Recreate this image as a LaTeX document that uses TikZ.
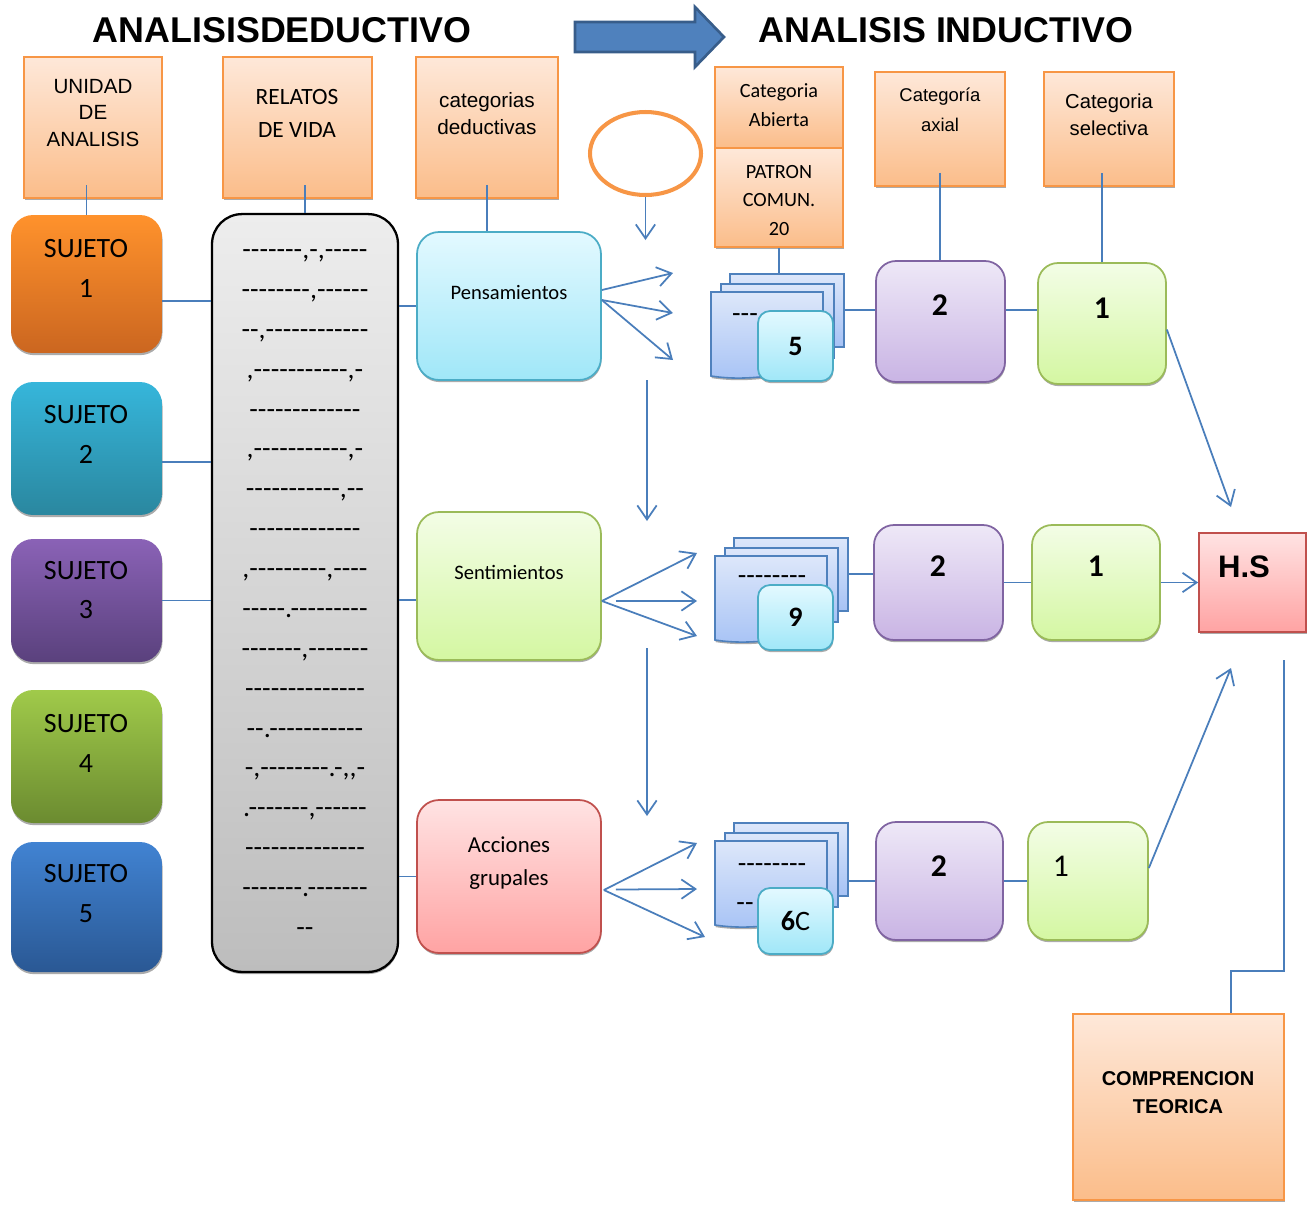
\documentclass[tikz,border=0pt]{standalone}
\usepackage{fontspec}
\setmainfont{Carlito}
\newfontfamily\arialf{Liberation Sans}
\newfontfamily\dashf{Carlito}[Ligatures=TeXOff]
\usetikzlibrary{positioning,calc,shapes.geometric,shadows,arrows.meta}

\definecolor{linkblue}{HTML}{4A7EBB}
\definecolor{orlight}{HTML}{FEE8D9}
\definecolor{ordark}{HTML}{FBBD8A}
\definecolor{orline}{HTML}{F79646}
\definecolor{arrowfill}{HTML}{4F81BD}
\definecolor{arrowline}{HTML}{385D8A}
\definecolor{pagelight}{HTML}{DDE7FA}
\definecolor{pagedark}{HTML}{A6C2F5}
\definecolor{cyanlight}{HTML}{E3F9FF}
\definecolor{cyandark}{HTML}{A0E7F8}
\definecolor{cyanline}{HTML}{4BACC6}
\definecolor{greenlight}{HTML}{F3FDE6}
\definecolor{greendark}{HTML}{D4F7A2}
\definecolor{greenline}{HTML}{9BBB59}
\definecolor{redlight}{HTML}{FFE3E3}
\definecolor{reddark}{HTML}{FFA3A3}
\definecolor{redline}{HTML}{C0504D}
\definecolor{purplelight}{HTML}{EEE8F7}
\definecolor{purpledark}{HTML}{C9B4E4}
\definecolor{purpleline}{HTML}{8064A2}
\definecolor{graylight}{HTML}{EDEDED}
\definecolor{graydark}{HTML}{BDBDBD}
\definecolor{sujAt}{HTML}{FF922C}
\definecolor{sujAb}{HTML}{CB6620}
\definecolor{sujBt}{HTML}{36B6DB}
\definecolor{sujBb}{HTML}{2A879F}
\definecolor{sujCt}{HTML}{8A62B6}
\definecolor{sujCb}{HTML}{5A417D}
\definecolor{sujDt}{HTML}{A0CA4A}
\definecolor{sujDb}{HTML}{6B8B30}
\definecolor{sujEt}{HTML}{4183D2}
\definecolor{sujEb}{HTML}{2A5894}

\tikzset{
	shad/.style={drop shadow={shadow xshift=0.3pt,shadow yshift=-1.2pt,opacity=0.55,fill=black!60}},
	hdbox/.style={draw=orline,line width=1pt,top color=orlight,bottom color=ordark,shad},
	subj/.style={rounded corners=0.44cm,minimum width=3.02cm,shad},
	catbox/.style={rounded corners=0.44cm,line width=1pt,minimum width=3.68cm,shad},
	stepbox/.style={rounded corners=0.4cm,line width=1pt,shad},
	numbox/.style={rounded corners=0.24cm,line width=1pt,draw=cyanline,top color=cyanlight,bottom color=cyandark,
		minimum width=1.5cm,font=\bfseries\fontsize{16}{18}\selectfont,shad},
	sheet/.style={draw=arrowfill,line width=0.9pt,top color=pagelight,bottom color=pagedark},
	link/.style={draw=linkblue,line width=1pt},
	arr/.style={link,-{Straight Barb[length=8pt,width=11pt]}},
	ttl/.style={font=\arialf\bfseries\fontsize{20.4}{24}\selectfont},
	htxt/.style={font=\arialf\fontsize{11.7}{15.3}\selectfont,align=center},
	ctxt/.style={font=\fontsize{11.5}{16.4}\selectfont,align=center},
	sjtxt/.style={font=\fontsize{15.9}{22.7}\selectfont,align=center},
	dtxt/.style={font=\dashf\fontsize{15.9}{22.7}\selectfont,align=center},
	bigtxt/.style={font=\bfseries\fontsize{18}{20}\selectfont},
}

\newcommand{\pagestack}[3]{%
	\node[sheet,minimum width=2.28cm,minimum height=1.46cm,anchor=north west] (#1back) at (#2+18,#3) {};
	\node[sheet,minimum width=2.26cm,minimum height=1.48cm,anchor=north west] (#1mid) at (#2+9,#3+10) {};
	\draw[sheet,shad] (#2,#3+19) -- (#2+112,#3+19) -- (#2+112,#3+97)
		.. controls (#2+80,#3+97) and (#2+45,#3+110) .. (#2,#3+103) -- cycle;
}

\begin{document}
\begin{tikzpicture}[x=0.02cm,y=-0.02cm]
	\useasboundingbox (0,0) rectangle (1313,1205);

	% titles
	\node[ttl] (ded) at (282,30) {ANALISISDEDUCTIVO};
	\node[ttl] (ind) at (946,30) {ANALISIS INDUCTIVO};
	\draw[fill=arrowfill,draw=arrowline,line width=1.5pt] (575,22) -- (695,22) -- (695,7) -- (724,37)
		-- (695,67) -- (695,52) -- (575,52) -- cycle;

	% header boxes
	\node[hdbox,minimum width=2.76cm,minimum height=2.82cm] (unidad) at (93,127.5) {};
	\node[htxt] (unidadtxt) at (93,113) {UNIDAD\\DE\\ANALISIS};
	\node[hdbox,minimum width=2.98cm,minimum height=2.82cm] (relhead) at (297.5,127.5) {};
	\node[align=center,font=\fontsize{13.3}{18.7}\selectfont] (relheadtxt) at (297,113.5) {RELATOS\\DE VIDA};
	\node[hdbox,minimum width=2.84cm,minimum height=2.82cm] (cathead) at (487,127.5) {};
	\node[htxt,font=\arialf\fontsize{11.8}{15.3}\selectfont] (catheadtxt) at (487,113.5) {categorias\\deductivas};
	\node[hdbox,minimum width=2.56cm,minimum height=1.62cm] (abierta) at (779,107.5) {};
	\node[ctxt] (abiertatxt) at (779,105.5) {Categoria\\Abierta};
	\node[hdbox,minimum width=2.56cm,minimum height=1.98cm] (patron) at (779,197.5) {};
	\node[ctxt] (patrontxt) at (779,200.5) {PATRON\\COMUN.\\20};
	\node[hdbox,minimum width=2.6cm,minimum height=2.28cm] (axhead) at (940,129) {};
	\node[htxt,font=\arialf\fontsize{10.5}{17}\selectfont] (axheadtxt) at (940,110) {Categoría\\axial};
	\node[hdbox,minimum width=2.6cm,minimum height=2.28cm] (selhead) at (1109,129) {};
	\node[htxt,font=\arialf\fontsize{11.5}{15.3}\selectfont] (selheadtxt) at (1109,114.5) {Categoria\\selectiva};
	\node[hdbox,minimum width=4.22cm,minimum height=3.72cm] (teoria) at (1178.5,1107) {};
	\node[htxt,font=\arialf\bfseries\fontsize{11.4}{16.4}\selectfont] (teoriatxt) at (1178,1092.5) {COMPRENCION\\TEORICA};

	% sujetos
	\node[subj,top color=sujAt,bottom color=sujAb,minimum height=2.76cm] (s1) at (86.5,284) {};
	\node[sjtxt] (s1txt) at (86,268.5) {SUJETO\\1};
	\node[subj,top color=sujBt,bottom color=sujBb,minimum height=2.66cm] (s2) at (86.5,448.5) {};
	\node[sjtxt] (s2txt) at (86,434) {SUJETO\\2};
	\node[subj,top color=sujCt,bottom color=sujCb,minimum height=2.46cm] (s3) at (86.5,600.5) {};
	\node[sjtxt] (s3txt) at (86,590) {SUJETO\\3};
	\node[subj,top color=sujDt,bottom color=sujDb,minimum height=2.66cm] (s4) at (86.5,756.5) {};
	\node[sjtxt] (s4txt) at (86,743) {SUJETO\\4};
	\node[subj,top color=sujEt,bottom color=sujEb,minimum height=2.6cm] (s5) at (86.5,907) {};
	\node[sjtxt] (s5txt) at (86,893.5) {SUJETO\\5};

	% relatos de vida
	\node[draw=black,line width=1.3pt,rounded corners=0.6cm,top color=graylight,bottom color=graydark,
		minimum width=3.72cm,minimum height=15.16cm,dtxt,shad] (relatos) at (305,593)
		{-------,-,-----\\--------,------\\--,------------\\,-----------,-\\-------------\\,-----------,-\\
		-----------,--\\-------------\\,---------,----\\-----.---------\\-------,-------\\--------------\\
		--.-----------\\-,--------.-,,-\\.-------,------\\--------------\\-------.-------\\--};

	% categorias deductivas
	\node[catbox,draw=cyanline,top color=cyanlight,bottom color=cyandark,minimum height=2.96cm] (pens) at (509,306) {};
	\node[font=\fontsize{11.7}{14}\selectfont] (penstxt) at (509,292) {Pensamientos};
	\node[catbox,draw=greenline,top color=greenlight,bottom color=greendark,minimum height=2.96cm] (sent) at (509,586) {};
	\node[font=\fontsize{11.7}{14}\selectfont] (senttxt) at (509,572) {Sentimientos};
	\node[catbox,draw=redline,top color=redlight,bottom color=reddark,minimum height=3.06cm] (acc) at (509,876.5) {};
	\node[align=center,font=\fontsize{13}{18.7}\selectfont] (acctxt) at (509,863.5) {Acciones\\grupales};

	\node[draw=orline,line width=2.3pt,ellipse,minimum width=2.22cm,minimum height=1.66cm] (ring) at (645.5,153.5) {};

	% patrones
	\pagestack{p1}{711}{273}
	\node[dtxt] (p1txt) at (745,318) {---};
	\node[numbox,minimum height=1.4cm] (n5) at (795.5,346) {5};
	\pagestack{p2}{715}{537}
	\node[dtxt] (p2txt) at (772,580) {--------};
	\node[numbox,minimum height=1.3cm] (n9) at (795.5,617.5) {9};
	\pagestack{p3}{715}{822}
	\node[dtxt] (p3txt) at (772,868) {--------};
	\node[dtxt] (p3txtb) at (745,907) {--};
	\node[numbox,minimum height=1.32cm] (n6c) at (795.5,921) {6\mdseries C};

	% axial y selectiva
	\node[stepbox,draw=purpleline,top color=purplelight,bottom color=purpledark,minimum width=2.58cm,minimum height=2.42cm] (ax1) at (940.5,321.5) {};
	\node[bigtxt] (ax1txt) at (940,305) {2};
	\node[stepbox,draw=purpleline,top color=purplelight,bottom color=purpledark,minimum width=2.58cm,minimum height=2.3cm] (ax2) at (938.5,582.5) {};
	\node[bigtxt] (ax2txt) at (938,566) {2};
	\node[stepbox,draw=purpleline,top color=purplelight,bottom color=purpledark,minimum width=2.54cm,minimum height=2.36cm] (ax3) at (939.5,881) {};
	\node[bigtxt] (ax3txt) at (939,866) {2};
	\node[stepbox,draw=greenline,top color=greenlight,bottom color=greendark,minimum width=2.56cm,minimum height=2.42cm] (sel1) at (1102,323.5) {};
	\node[bigtxt] (sel1txt) at (1102,308) {1};
	\node[stepbox,draw=greenline,top color=greenlight,bottom color=greendark,minimum width=2.56cm,minimum height=2.3cm] (sel2) at (1096,582.5) {};
	\node[bigtxt] (sel2txt) at (1096,566) {1};
	\node[stepbox,draw=greenline,top color=greenlight,bottom color=greendark,minimum width=2.4cm,minimum height=2.36cm] (sel3) at (1088,881) {};
	\node[font=\fontsize{18}{20}\selectfont] (sel3txt) at (1061,866) {1};

	\node[draw=redline,line width=1pt,top color=redlight,bottom color=reddark,minimum width=2.14cm,minimum height=1.98cm,shad] (hs) at (1252.5,582.5) {};
	\node[font=\arialf\bfseries\fontsize{17.7}{20}\selectfont] (hstxt) at (1244,567) {H.S};

	% connectors
	\draw[link] (s1.north) -- ($(s1.north |- unidad.south)+(0,-14)$);
	\draw[link] (relatos.north) -- ($(relatos.north |- relhead.south)+(0,-14)$);
	\draw[link] ($(cathead.south)+(0,-14)$) -- (cathead.south |- pens.north);
	\draw[link] ($(s1.east)+(0,17)$) -- ($(relatos.west |- s1.east)+(0,17)$);
	\draw[link] ($(s2.east)+(0,13.5)$) -- ($(relatos.west |- s2.east)+(0,13.5)$);
	\draw[link] (s3.east) -- (relatos.west |- s3.east);
	\draw[link] (pens.west -| relatos.east) -- (pens.west);
	\draw[link] ($(sent.west -| relatos.east)+(0,14)$) -- ($(sent.west)+(0,14)$);
	\draw[link] (acc.west -| relatos.east) -- (acc.west);

	\coordinate (v1) at (647,240);
	\coordinate (v2a) at (647,380);
	\coordinate (v2b) at (647,521);
	\coordinate (v3a) at (647,648);
	\coordinate (v3b) at (647,816);
	\draw[arr] (ring.south) -- (ring.south |- v1);
	\draw[arr] (v2a) -- (v2b);
	\draw[arr] (v3a) -- (v3b);

	\coordinate (f1a) at (673,273);
	\coordinate (f1b) at (673,313);
	\coordinate (f1c) at (673,360);
	\draw[arr] ($(pens.east)+(0,-16)$) -- (f1a);
	\draw[arr] ($(pens.east)+(0,-6)$) -- (f1b);
	\draw[arr] ($(pens.east)+(0,-6)$) -- (f1c);
	\coordinate (f2a) at (697,553);
	\coordinate (f2b) at (697,601);
	\coordinate (f2c) at (697,636);
	\draw[arr] ($(sent.east)+(0,15)$) -- (f2a);
	\draw[arr] ($(sent.east)+(14,15)$) -- (f2b);
	\draw[arr] ($(sent.east)+(0,15)$) -- (f2c);
	\coordinate (f3a) at (697,843);
	\coordinate (f3b) at (697,889);
	\coordinate (f3c) at (705,937);
	\draw[arr] ($(acc.east)+(2,13.5)$) -- (f3a);
	\draw[arr] ($(acc.east)+(14,13)$) -- (f3b);
	\draw[arr] ($(acc.east)+(2,13.5)$) -- (f3c);

	\draw[link] (patron.south) -- (patron.south |- p1back.north);
	\draw[link] (p1back.east) -- (p1back.east -| ax1.west);
	\draw[link] (p2back.east) -- (p2back.east -| ax2.west);
	\draw[link] (ax3.west -| p3back.east) -- (ax3.west);
	\draw[link] ($(axhead.south)+(0,-14)$) -- (axhead.south |- ax1.north);
	\draw[link] (sel1.north) -- ($(sel1.north |- selhead.south)+(0,-14)$);
	\draw[link] (ax1.east |- p1back.east) -- (sel1.west |- p1back.east);
	\draw[link] (ax2.east) -- (sel2.west);
	\draw[link] (ax3.east) -- (sel3.west);

	\coordinate (h1) at (1231,507);
	\coordinate (h3) at (1231,668);
	\coordinate (hsout) at (1284,660);
	\draw[arr] ($(sel1.east)+(0,6)$) -- (h1);
	\draw[arr] (sel2.east) -- (hs.west);
	\draw[arr] ($(sel3.east)+(0,-13)$) -- (h3);
	\draw[link] (hsout) |- ($(teoria.north)+(52.5,-42)$) -- ($(teoria.north)+(52.5,0)$);
\end{tikzpicture}
\end{document}
